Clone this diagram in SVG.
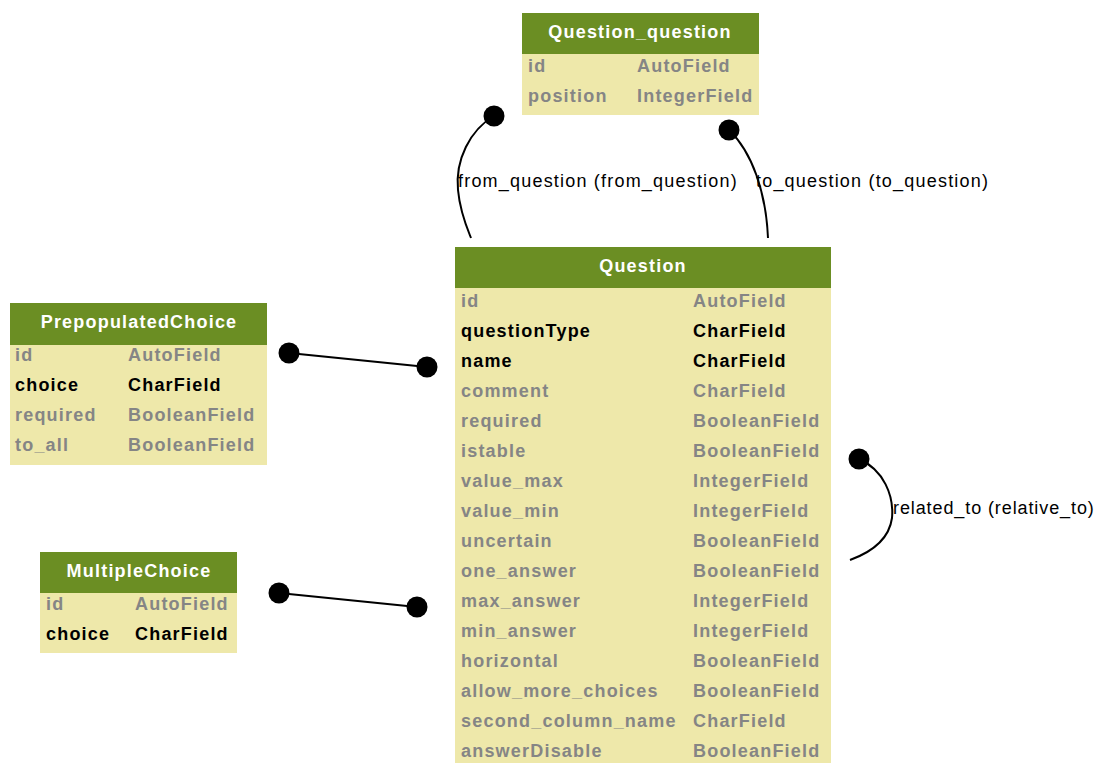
<svg xmlns="http://www.w3.org/2000/svg" width="1099" height="763" viewBox="0 0 1099 763">
<style>
text{font-family:"Liberation Sans",Arial,sans-serif;font-size:18px;letter-spacing:1.2px}
.hd{fill:#6b8e23}
.bd{fill:#eee8aa}
.tt{fill:#fff;font-weight:bold;text-anchor:middle}
.f{fill:#858585;font-weight:bold}
.k{fill:#000;font-weight:bold}
.lbl{fill:#000}
.edge{fill:none;stroke:#000;stroke-width:2}
.dot{fill:#000}
</style>
<rect width="1099" height="763" fill="#fff"/>
<g id="Question_question">
<rect class="bd" x="522" y="54" width="237" height="61"/>
<rect class="hd" x="522" y="13" width="237" height="41"/>
<text class="tt" x="640" y="38">Question_question</text>
<text class="f" x="528" y="72">id</text><text class="f" x="637" y="72">AutoField</text>
<text class="f" x="528" y="102">position</text><text class="f" x="637" y="102">IntegerField</text>
</g>
<g id="Question">
<rect class="bd" x="455" y="288" width="376" height="480"/>
<rect class="hd" x="455" y="247" width="376" height="41"/>
<text class="tt" x="643" y="272">Question</text>
<text class="f" x="461" y="307">id</text><text class="f" x="693" y="307">AutoField</text>
<text class="k" x="461" y="337">questionType</text><text class="k" x="693" y="337">CharField</text>
<text class="k" x="461" y="367">name</text><text class="k" x="693" y="367">CharField</text>
<text class="f" x="461" y="397">comment</text><text class="f" x="693" y="397">CharField</text>
<text class="f" x="461" y="427">required</text><text class="f" x="693" y="427">BooleanField</text>
<text class="f" x="461" y="457">istable</text><text class="f" x="693" y="457">BooleanField</text>
<text class="f" x="461" y="487">value_max</text><text class="f" x="693" y="487">IntegerField</text>
<text class="f" x="461" y="517">value_min</text><text class="f" x="693" y="517">IntegerField</text>
<text class="f" x="461" y="547">uncertain</text><text class="f" x="693" y="547">BooleanField</text>
<text class="f" x="461" y="577">one_answer</text><text class="f" x="693" y="577">BooleanField</text>
<text class="f" x="461" y="607">max_answer</text><text class="f" x="693" y="607">IntegerField</text>
<text class="f" x="461" y="637">min_answer</text><text class="f" x="693" y="637">IntegerField</text>
<text class="f" x="461" y="667">horizontal</text><text class="f" x="693" y="667">BooleanField</text>
<text class="f" x="461" y="697">allow_more_choices</text><text class="f" x="693" y="697">BooleanField</text>
<text class="f" x="461" y="727">second_column_name</text><text class="f" x="693" y="727">CharField</text>
<text class="f" x="461" y="757">answerDisable</text><text class="f" x="693" y="757">BooleanField</text>
</g>
<g id="PrepopulatedChoice">
<rect class="bd" x="10" y="345" width="257" height="120"/>
<rect class="hd" x="10" y="303" width="257" height="42"/>
<text class="tt" x="139" y="328">PrepopulatedChoice</text>
<text class="f" x="15" y="361">id</text><text class="f" x="128" y="361">AutoField</text>
<text class="k" x="15" y="391">choice</text><text class="k" x="128" y="391">CharField</text>
<text class="f" x="15" y="421">required</text><text class="f" x="128" y="421">BooleanField</text>
<text class="f" x="15" y="451">to_all</text><text class="f" x="128" y="451">BooleanField</text>
</g>
<g id="MultipleChoice">
<rect class="bd" x="40" y="593" width="197" height="60"/>
<rect class="hd" x="40" y="552" width="197" height="41"/>
<text class="tt" x="139" y="577">MultipleChoice</text>
<text class="f" x="46" y="610">id</text><text class="f" x="135" y="610">AutoField</text>
<text class="k" x="46" y="640">choice</text><text class="k" x="135" y="640">CharField</text>
</g>
<g id="connectors">
<path class="edge" d="M494,116 C470,130 455,160 458,190 C460,212 467,228 471,238"/>
<circle class="dot" cx="494" cy="116" r="10.5"/>
<text class="lbl" x="458" y="187">from_question (from_question)</text>
<path class="edge" d="M729,130 C752,152 766,192 768,238"/>
<circle class="dot" cx="729" cy="130" r="10.5"/>
<text class="lbl" x="756" y="187">to_question (to_question)</text>
<path class="edge" d="M289,353 L427,367"/>
<circle class="dot" cx="289" cy="353" r="10.5"/>
<circle class="dot" cx="427" cy="367" r="10.5"/>
<path class="edge" d="M279,593 L417,607"/>
<circle class="dot" cx="279" cy="593" r="10.5"/>
<circle class="dot" cx="417" cy="607" r="10.5"/>
<path class="edge" d="M859,459 C884,470 894,496 892,518 C889,540 872,552 850,560"/>
<circle class="dot" cx="859" cy="459" r="10.5"/>
<text class="lbl" x="893" y="514" style="letter-spacing:0.9px">related_to (relative_to)</text>
</g>
</svg>
